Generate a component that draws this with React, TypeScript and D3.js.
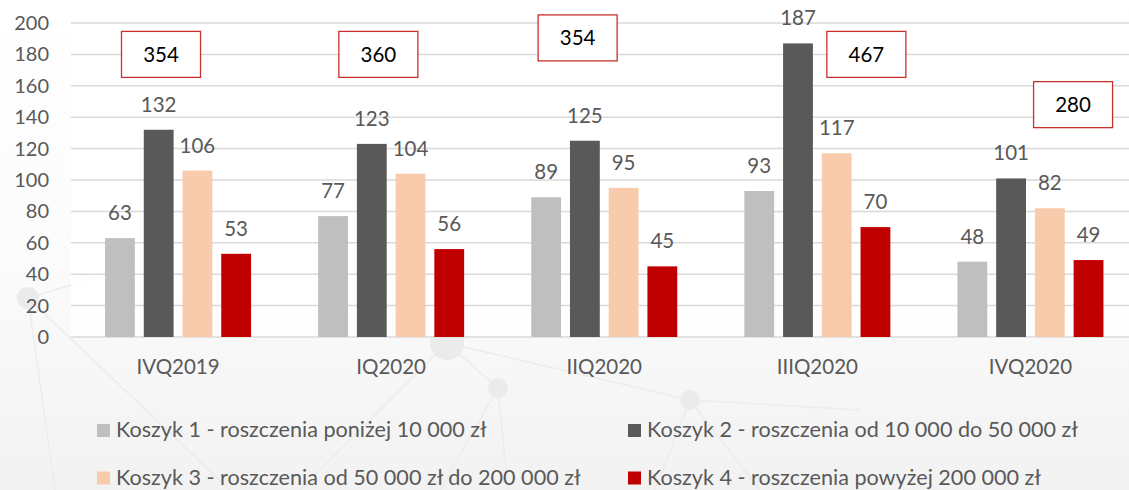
// App.tsx
// Grouped bar chart: claims per basket, by quarter
import React from "react";
import * as d3 from "d3";

const quarters = ["IVQ2019", "IQ2020", "IIQ2020", "IIIQ2020", "IVQ2020"];
const seriesNames = [
  "Koszyk 1 - roszczenia poniżej 10 000 zł",
  "Koszyk 2 - roszczenia od 10 000 do 50 000 zł",
  "Koszyk 3 - roszczenia od 50 000 zł do 200 000 zł",
  "Koszyk 4 - roszczenia powyżej 200 000 zł",
];
const koszyk1 = [63, 77, 89, 93, 48];
const koszyk2 = [132, 123, 125, 187, 101];
const koszyk3 = [106, 104, 95, 117, 82];
const koszyk4 = [53, 56, 45, 70, 49];
const totals = [354, 360, 354, 467, 280];
const yTicks = [0, 20, 40, 60, 80, 100, 120, 140, 160, 180, 200];

// where each total box sits: offset within the band (fraction) and value level
const totalBoxPos = [
  { dx: -0.08, v: 180 },
  { dx: -0.06, v: 180 },
  { dx: -0.125, v: 190.5 },
  { dx: 0.23, v: 180 },
  { dx: 0.2, v: 148 },
];

const colors = ["#bfbfbf", "#595959", "#f8cbad", "#c00000"];
const font = "Lato, 'Open Sans', sans-serif";
const textColor = "#595959";

export default function App() {
  const width = 1129, height = 490;
  const series = [koszyk1, koszyk2, koszyk3, koszyk4];

  const x = d3.scaleBand<string>().domain(quarters).range([71.5, 1137]).padding(0);
  const inner = d3.scaleBand<number>().domain([0, 1, 2, 3]).range([-73, 73]).paddingInner(0.23);
  const y = d3.scaleLinear().domain([0, 200]).range([337, 23]);

  const boxW = 79, boxH = 46;

  return (
    <svg width={width} height={height} style={{ position: "absolute", left: 0, top: 0, fontFamily: font }}>
      <defs>
        <linearGradient id="bg" x1="0" y1="0" x2="0" y2="1">
          <stop offset="0%" stopColor="#ffffff" />
          <stop offset="55%" stopColor="#fbfbfb" />
          <stop offset="100%" stopColor="#f2f2f2" />
        </linearGradient>
      </defs>
      <rect width={width} height={height} fill="url(#bg)" />
      {/* faint network decoration */}
      <g stroke="#ececec" strokeWidth={1.5} fill="none">
        <line x1={28} y1={298} x2={170} y2={255} />
        <line x1={28} y1={298} x2={55} y2={490} />
        <line x1={28} y1={298} x2={230} y2={490} />
        <line x1={447} y1={343} x2={690} y2={400} />
        <line x1={447} y1={343} x2={498} y2={388} />
        <line x1={447} y1={343} x2={300} y2={490} />
        <line x1={498} y1={388} x2={440} y2={490} />
        <line x1={498} y1={388} x2={508} y2={490} />
        <line x1={690} y1={400} x2={655} y2={490} />
        <line x1={690} y1={400} x2={760} y2={490} />
        <line x1={690} y1={400} x2={860} y2={410} />
      </g>
      <g fill="#ebebeb">
        <circle cx={28} cy={298} r={11} />
        <circle cx={447} cy={343} r={17} />
        <circle cx={498} cy={388} r={10} />
        <circle cx={690} cy={400} r={10} />
      </g>
      <rect x={71} y={18} width={width - 71} height={320} fill="#ffffff" opacity={0.85} />

      {/* gridlines + y labels */}
      {yTicks.map((t) => (
        <g key={t}>
          <line x1={71} x2={width} y1={y(t)} y2={y(t)} stroke="#d9d9d9" strokeWidth={1.5} />
          <text x={49} y={y(t)} dy="0.35em" textAnchor="end" fontSize={20} fill={textColor}>
            {t}
          </text>
        </g>
      ))}

      {/* bars and value labels */}
      {quarters.map((q, qi) => {
        const cx = (x(q) as number) + x.bandwidth() / 2;
        return (
          <g key={q}>
            {series.map((s, si) => {
              const bx = cx + (inner(si) as number);
              return (
                <g key={si}>
                  <rect x={bx} y={y(s[qi])} width={inner.bandwidth()} height={y(0) - y(s[qi])} fill={colors[si]} />
                  <text x={bx + inner.bandwidth() / 2} y={y(s[qi]) - 18} textAnchor="middle" fontSize={20.5} fill={textColor}>
                    {s[qi]}
                  </text>
                </g>
              );
            })}
            <text x={cx} y={374} textAnchor="middle" fontSize={20.5} fill={textColor}>
              {q}
            </text>
          </g>
        );
      })}

      {/* totals */}
      {quarters.map((q, qi) => {
        const cx = (x(q) as number) + x.bandwidth() / 2 + totalBoxPos[qi].dx * x.bandwidth();
        const cy = y(totalBoxPos[qi].v);
        return (
          <g key={"t" + q}>
            <rect x={cx - boxW / 2} y={cy - boxH / 2} width={boxW} height={boxH} fill="#ffffff" stroke="#c9302c" strokeWidth={1.3} />
            <text x={cx} y={cy} dy="0.36em" textAnchor="middle" fontSize={20.5} fill="#000000">
              {totals[qi]}
            </text>
          </g>
        );
      })}

      {/* legend */}
      {seriesNames.map((name, i) => {
        const lx = i % 2 === 0 ? 97 : 628;
        const ly = i < 2 ? 430.5 : 478;
        return (
          <g key={name}>
            <rect x={lx} y={ly - 6.5} width={13} height={13} fill={colors[i]} />
            <text x={lx + 19} y={ly + 6.5} fontSize={21.6} fill={textColor}>
              {name}
            </text>
          </g>
        );
      })}
    </svg>
  );
}
